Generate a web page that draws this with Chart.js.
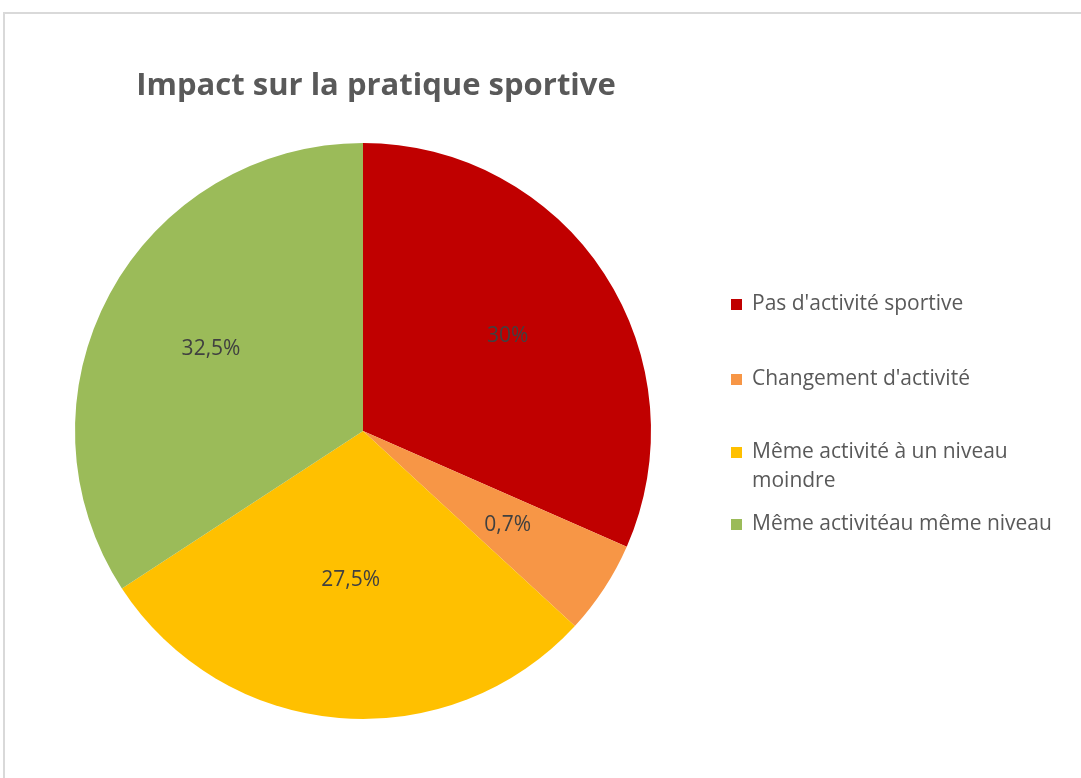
<!DOCTYPE html>
<html>
<head>
<meta charset="utf-8">
<script src="https://cdn.jsdelivr.net/npm/chart.js@4"></script>
<style>
  html, body { margin: 0; padding: 0; background: #ffffff; }
  canvas { display: block; }
</style>
</head>
<body>
<canvas id="c" width="1081" height="778"></canvas>
<script>
const title = "Impact sur la pratique sportive";
const categories = ["Pas d'activité sportive", "Changement d'activité", "Même activité à un niveau moindre", "Même activitéau même niveau"];
const values = [30, 5, 27.5, 32.5];
const valueLabels = ["30%", "0,7%", "27,5%", "32,5%"];
const colors = ["#C00000", "#F79646", "#FFC000", "#9BBB59"];

const FONT = "'Open Sans', 'DejaVu Sans', sans-serif";

const framePlugin = {
  id: 'frame',
  beforeDraw(chart) {
    const ctx = chart.ctx;
    ctx.save();
    ctx.fillStyle = '#ffffff';
    ctx.fillRect(0, 0, chart.width, chart.height);
    ctx.strokeStyle = '#d9d9d9';
    ctx.lineWidth = 2;
    ctx.beginPath();
    ctx.moveTo(4, chart.height + 5);
    ctx.lineTo(4, 13);
    ctx.lineTo(chart.width + 5, 13);
    ctx.stroke();
    // title
    ctx.fillStyle = '#595959';
    ctx.font = "bold 31px " + FONT;
    ctx.textAlign = 'center';
    ctx.textBaseline = 'alphabetic';
    ctx.fillText(title, 376, 95);
    ctx.restore();
  }
};

const labelPlugin = {
  id: 'sliceLabels',
  afterDatasetsDraw(chart) {
    const ctx = chart.ctx;
    const meta = chart.getDatasetMeta(0);
    ctx.save();
    ctx.font = "21px " + FONT;
    ctx.fillStyle = '#404040';
    ctx.textAlign = 'center';
    ctx.textBaseline = 'middle';
    const radial = [0.6, 0.6, 0.52, 0.6];
    meta.data.forEach((arc, i) => {
      const p = arc.getProps(['x', 'y', 'startAngle', 'endAngle', 'outerRadius'], true);
      const mid = (p.startAngle + p.endAngle) / 2;
      const r = p.outerRadius * radial[i];
      ctx.fillText(valueLabels[i], p.x + Math.cos(mid) * r, p.y + Math.sin(mid) * r);
    });
    ctx.restore();
  }
};

const legendPlugin = {
  id: 'sideLegend',
  afterDraw(chart) {
    const ctx = chart.ctx;
    ctx.save();
    ctx.font = "21px " + FONT;
    ctx.textBaseline = 'middle';
    ctx.textAlign = 'left';
    const x0 = 731, tx = 752, maxW = 322, lineH = 29;
    const ys = [304, 379, 452, 524];
    categories.forEach((cat, i) => {
      const words = cat.split(' ');
      const lines = [];
      let cur = '';
      words.forEach(w => {
        const t = cur ? cur + ' ' + w : w;
        if (ctx.measureText(t).width > maxW && cur) { lines.push(cur); cur = w; }
        else cur = t;
      });
      if (cur) lines.push(cur);
      const y = ys[i];
      ctx.fillStyle = colors[i];
      ctx.fillRect(x0, y - 5, 11, 11);
      ctx.fillStyle = '#595959';
      lines.forEach((ln, k) => ctx.fillText(ln, tx, y + k * lineH));
    });
    ctx.restore();
  }
};

new Chart(document.getElementById('c'), {
  type: 'pie',
  data: {
    labels: categories,
    datasets: [{
      data: values,
      backgroundColor: colors,
      borderWidth: 0
    }]
  },
  options: {
    responsive: false,
    animation: false,
    layout: { padding: { left: 75, top: 143, right: 430, bottom: 59 } },
    plugins: {
      legend: { display: false },
      title: { display: false },
      tooltip: { enabled: false }
    }
  },
  plugins: [framePlugin, labelPlugin, legendPlugin]
});
</script>
</body>
</html>
